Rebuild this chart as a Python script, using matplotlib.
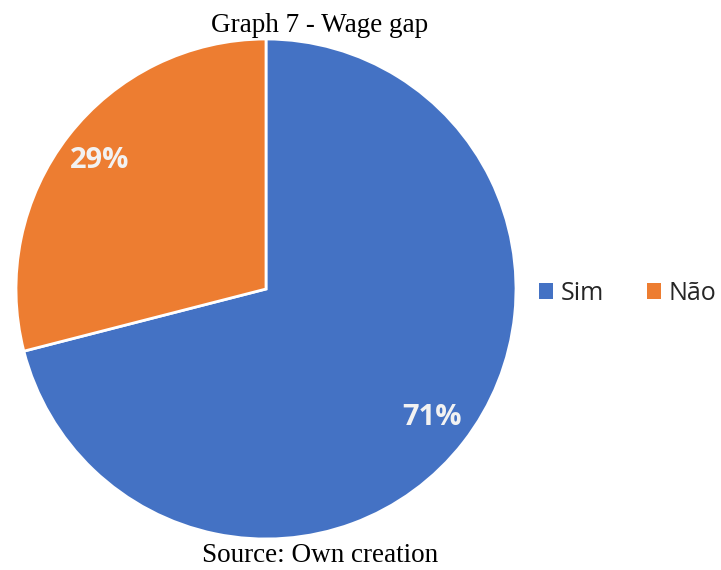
import matplotlib.pyplot as plt

labels = ["Sim", "Não"]
values = [71, 29]
colors = ["#4472C4", "#ED7D31"]

fig = plt.figure(figsize=(7.21, 5.70), dpi=100)
W, H = 721, 570

# pie axes: centre ~ (266, 289) px, radius ~250 px
ax = fig.add_axes([16 / W, (570 - 539) / H, 500 / W, 500 / H])
wedges, _, autotexts = ax.pie(
    values, colors=colors, startangle=90, counterclock=False,
    autopct=lambda p: f"{p:.0f}%", pctdistance=0.84,
    wedgeprops=dict(edgecolor="white", linewidth=2),
    textprops=dict(color="#F2F2F2", fontsize=21, fontweight="bold", family="Open Sans"),
)
ax.set_aspect("equal")
ax.set_xlim(-1, 1)
ax.set_ylim(-1, 1)

fig.text(320 / W, 1 - 26 / H, "Graph 7 - Wage gap", ha="center", va="center",
         family="Liberation Serif", fontsize=19.5)
fig.text(320 / W, 1 - 555 / H, "Source: Own creation", ha="center", va="center",
         family="Liberation Serif", fontsize=19.5)

leg = fig.legend(wedges, labels, loc="center left", bbox_to_anchor=(539 / W, 1 - 293 / H),
                 ncol=2, frameon=False, borderpad=0, borderaxespad=0,
                 handlelength=0.55, handleheight=0.6,
                 handletextpad=0.3, columnspacing=1.75,
                 prop=dict(family="Open Sans", size=18))
for h in leg.legend_handles:
    h.set_edgecolor("none")
for t in leg.get_texts():
    t.set_color("#262626")

fig.savefig("out.png", dpi=100)
